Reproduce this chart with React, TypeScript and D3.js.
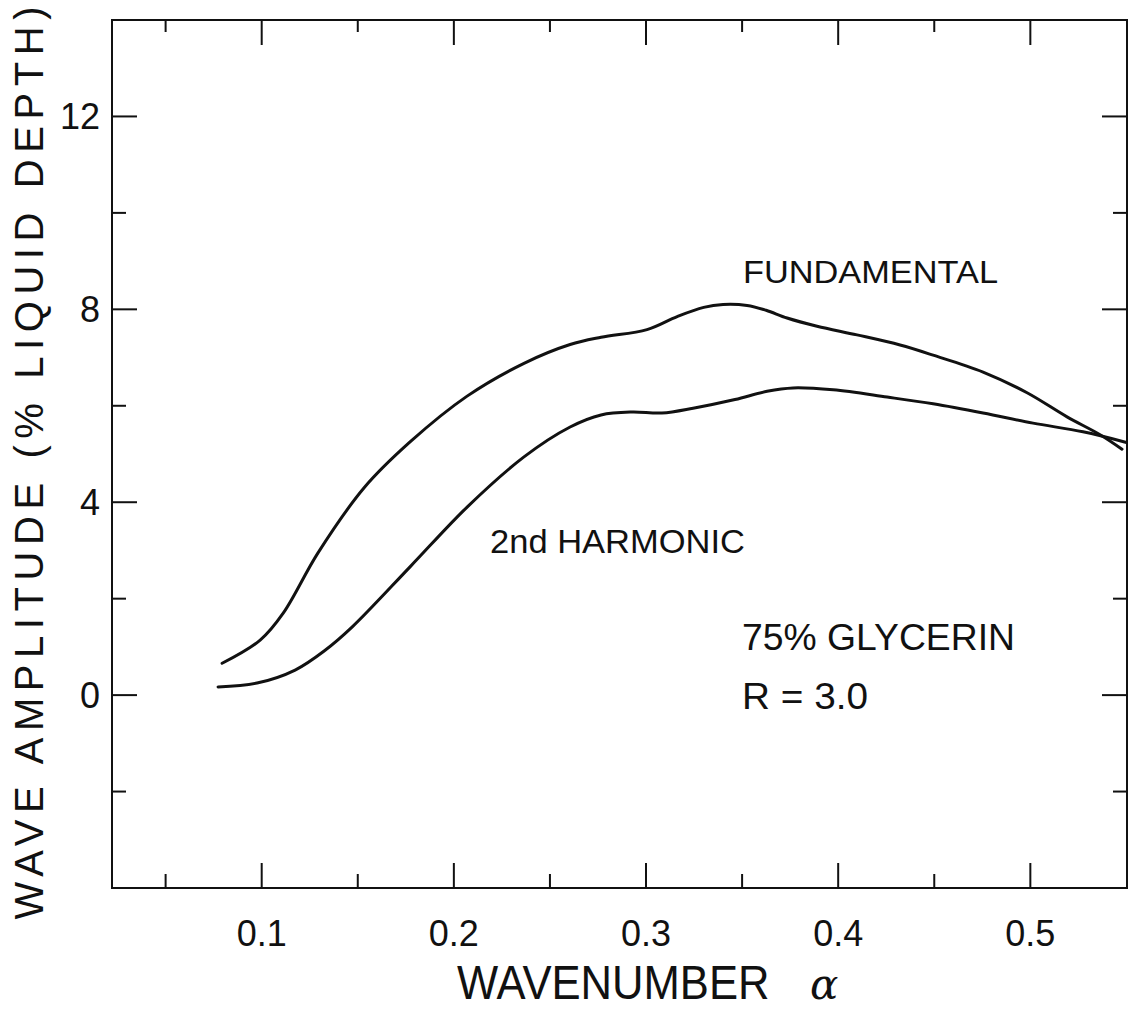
import React from "react";
import * as d3 from "d3";

// Wavenumber α and wave amplitude (% of liquid depth)
const fundamentalAlpha = [0.0794, 0.0992, 0.1112, 0.1293, 0.1533, 0.1772, 0.2069, 0.2365, 0.2605, 0.2766, 0.3005, 0.3162, 0.33, 0.3401, 0.3526, 0.3625, 0.3734, 0.389, 0.4098, 0.4322, 0.4494, 0.4754, 0.4983, 0.5191, 0.5363, 0.5477];
const fundamentalAmp = [0.66, 1.14, 1.7, 2.95, 4.3, 5.25, 6.2, 6.88, 7.27, 7.42, 7.58, 7.85, 8.04, 8.1, 8.08, 7.98, 7.82, 7.65, 7.47, 7.26, 7.05, 6.7, 6.27, 5.77, 5.4, 5.1];

const harmonicAlpha = [0.0773, 0.0976, 0.1174, 0.133, 0.147, 0.1772, 0.2069, 0.2365, 0.2605, 0.2766, 0.2927, 0.3083, 0.3245, 0.3463, 0.363, 0.3765, 0.3974, 0.4255, 0.4494, 0.4754, 0.5014, 0.5274, 0.55];
const harmonicAmp = [0.17, 0.25, 0.52, 0.93, 1.41, 2.66, 3.9, 4.94, 5.56, 5.81, 5.87, 5.85, 5.95, 6.13, 6.3, 6.37, 6.33, 6.18, 6.04, 5.85, 5.64, 5.46, 5.24];

const xMajorTicks = [0.1, 0.2, 0.3, 0.4, 0.5];
const xMinorTicks = [0.05, 0.15, 0.25, 0.35, 0.45];
const yMajorTicks = [0, 4, 8, 12];
const yMinorTicks = [-2, 2, 6, 10];

const W = 1132;
const H = 1010;
const left = 112;
const right = 1127;
const top = 20;
const bottom = 888;

const FONT = "'Liberation Sans', Arial, Helvetica, sans-serif";
const INK = "#111";

export default function App() {
  const x = d3.scaleLinear().domain([0.0221, 0.5503]).range([left, right]);
  const y = d3.scaleLinear().domain([-4, 14]).range([bottom, top]);

  const line = d3
    .line<[number, number]>()
    .x((d) => x(d[0]))
    .y((d) => y(d[1]))
    .curve(d3.curveCatmullRom.alpha(0.5));

  const fundamental = fundamentalAlpha.map((a, i) => [a, fundamentalAmp[i]] as [number, number]);
  const harmonic = harmonicAlpha.map((a, i) => [a, harmonicAmp[i]] as [number, number]);

  const major = 25;
  const minor = 14;

  return (
    <svg
      width={W}
      height={H}
      viewBox={`0 0 ${W} ${H}`}
      style={{ position: "absolute", left: 0, top: 0, background: "#fff" }}
    >
      <rect x={0} y={0} width={W} height={H} fill="#fff" />

      {/* plot frame */}
      <rect
        x={left}
        y={top}
        width={right - left}
        height={bottom - top}
        fill="none"
        stroke={INK}
        strokeWidth={2}
      />

      {/* ticks on bottom and top edges */}
      {xMajorTicks.map((t) => (
        <g key={`xM${t}`}>
          <line x1={x(t)} x2={x(t)} y1={bottom} y2={bottom - major} stroke={INK} strokeWidth={2} />
          <line x1={x(t)} x2={x(t)} y1={top} y2={top + major} stroke={INK} strokeWidth={2} />
        </g>
      ))}
      {xMinorTicks.map((t) => (
        <g key={`xm${t}`}>
          <line x1={x(t)} x2={x(t)} y1={bottom} y2={bottom - minor} stroke={INK} strokeWidth={2} />
          <line x1={x(t)} x2={x(t)} y1={top} y2={top + minor - 2} stroke={INK} strokeWidth={2} />
        </g>
      ))}

      {/* ticks on left and right edges */}
      {yMajorTicks.map((t) => (
        <g key={`yM${t}`}>
          <line x1={left} x2={left + major} y1={y(t)} y2={y(t)} stroke={INK} strokeWidth={2} />
          <line x1={right} x2={right - major} y1={y(t)} y2={y(t)} stroke={INK} strokeWidth={2} />
        </g>
      ))}
      {yMinorTicks.map((t) => (
        <g key={`ym${t}`}>
          <line x1={left} x2={left + minor} y1={y(t)} y2={y(t)} stroke={INK} strokeWidth={2} />
          <line x1={right} x2={right - minor} y1={y(t)} y2={y(t)} stroke={INK} strokeWidth={2} />
        </g>
      ))}

      {/* tick labels */}
      {xMajorTicks.map((t) => (
        <text
          key={`xl${t}`}
          x={x(t)}
          y={946}
          textAnchor="middle"
          fontFamily={FONT}
          fontSize={36}
          fill={INK}
        >
          {t.toFixed(1)}
        </text>
      ))}
      {yMajorTicks.map((t) => (
        <text
          key={`yl${t}`}
          x={100}
          y={y(t) + 13}
          textAnchor="end"
          fontFamily={FONT}
          fontSize={36}
          fill={INK}
        >
          {t}
        </text>
      ))}

      {/* curves */}
      <path d={line(fundamental) ?? ""} fill="none" stroke={INK} strokeWidth={3} strokeLinecap="round" />
      <path d={line(harmonic) ?? ""} fill="none" stroke={INK} strokeWidth={3} strokeLinecap="round" />

      {/* curve annotations */}
      <text x={743} y={283} fontFamily={FONT} fontSize={32} fill={INK} textLength={255} lengthAdjust="spacingAndGlyphs">
        FUNDAMENTAL
      </text>
      <text x={490} y={553} fontFamily={FONT} fontSize={34} fill={INK} textLength={255} lengthAdjust="spacingAndGlyphs">
        2nd HARMONIC
      </text>
      <text x={742} y={650} fontFamily={FONT} fontSize={36} fill={INK} textLength={273} lengthAdjust="spacingAndGlyphs">
        75% GLYCERIN
      </text>
      <text x={742} y={709} fontFamily={FONT} fontSize={36} fill={INK} textLength={126} lengthAdjust="spacingAndGlyphs">
        R = 3.0
      </text>

      {/* axis titles */}
      <text
        transform="translate(457,999) scale(0.89,1)"
        fontFamily={FONT}
        fontSize={49}
        fill={INK}
      >
        WAVENUMBER
      </text>
      <text x={810} y={999} fontFamily="'DejaVu Serif', 'Liberation Serif', serif" fontStyle="italic" fontSize={42} fill={INK}>
        α
      </text>
      <text
        transform="translate(43,463) rotate(-90)"
        textAnchor="middle"
        fontFamily={FONT}
        fontSize={40}
        fill={INK}
        textLength={913}
        lengthAdjust="spacing"
      >
        WAVE AMPLITUDE (% LIQUID DEPTH)
      </text>
    </svg>
  );
}
